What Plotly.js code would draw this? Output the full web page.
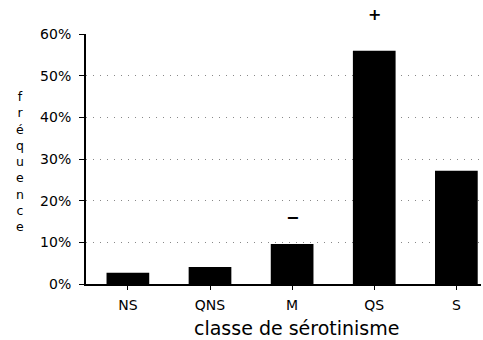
<!DOCTYPE html>
<html><head><meta charset="utf-8">
<script src="https://cdn.plot.ly/plotly-3.0.1.min.js"></script>
<style>html,body{margin:0;padding:0;background:#fff}#c{width:483px;height:340px}</style>
</head><body><div id="c"></div>
<script>
const categories = ["NS", "QNS", "M", "QS", "S"];
const frequencies = [0.027, 0.041, 0.096, 0.56, 0.272];
const markLabels = ["", "", "−", "+", ""];
const yTicks = [0, 0.1, 0.2, 0.3, 0.4, 0.5, 0.6];
const yTickLabels = ["0%", "10%", "20%", "30%", "40%", "50%", "60%"];
const yTitle = "fréquence";
const xTitle = "classe de sérotinisme";

const font = "DejaVu Sans, sans-serif";
const T = 34, H = 250, L = 86, W = 395;
const py = px => 1 - (px - T) / H;   // pixel row -> paper y
const pxX = px => (px - L) / W;      // pixel col -> paper x
const annotations = [];
// significance marks above bars (M: "−", QS: "+")
const markRows = [null, null, 217, 15, null];
categories.forEach((c, i) => {
  if (markLabels[i]) annotations.push({x: c, y: py(markRows[i]), xref: 'x', yref: 'paper', yanchor: 'middle',
    text: "<b>" + markLabels[i] + "</b>", showarrow: false, font: {family: font, size: 16, color: '#000'}});
});
// stacked vertical y title
annotations.push({xref: 'paper', yref: 'paper', x: pxX(20), y: py(161), xanchor: 'center', yanchor: 'middle',
  text: yTitle.split("").join("<br>"), showarrow: false, font: {family: font, size: 12.5, color: '#000'}});
annotations.push({xref: 'paper', yref: 'paper', x: pxX(296), y: py(328), xanchor: 'center', yanchor: 'middle',
  text: xTitle, showarrow: false, font: {family: font, size: 19, color: '#000'}});

Plotly.newPlot('c', [{
  type: 'bar', x: categories, y: frequencies, marker: {color: '#000'}
}], {
  width: 483, height: 340,
  margin: {l: L, r: 483 - L - W, t: T, b: 340 - T - H},
  paper_bgcolor: '#fff', plot_bgcolor: '#fff',
  bargap: 0.48,
  showlegend: false,
  font: {family: font, color: '#000'},
  xaxis: {range: [-0.51, 4.3], showline: true, linecolor: '#000', linewidth: 1.5,
    ticks: 'outside', ticklen: 4, tickcolor: '#000', tickfont: {size: 14}, ticklabelstandoff: 4},
  yaxis: {range: [0, 0.6], tickvals: yTicks, ticktext: yTickLabels, showline: true, linecolor: '#000', linewidth: 2,
    ticks: 'outside', ticklen: 5, tickcolor: '#000', tickfont: {size: 14}, ticklabelstandoff: 5,
    showgrid: true, gridcolor: '#888', griddash: '1px,6px', gridwidth: 1, zeroline: false},
  annotations: annotations
}, {staticPlot: true});
</script></body></html>
